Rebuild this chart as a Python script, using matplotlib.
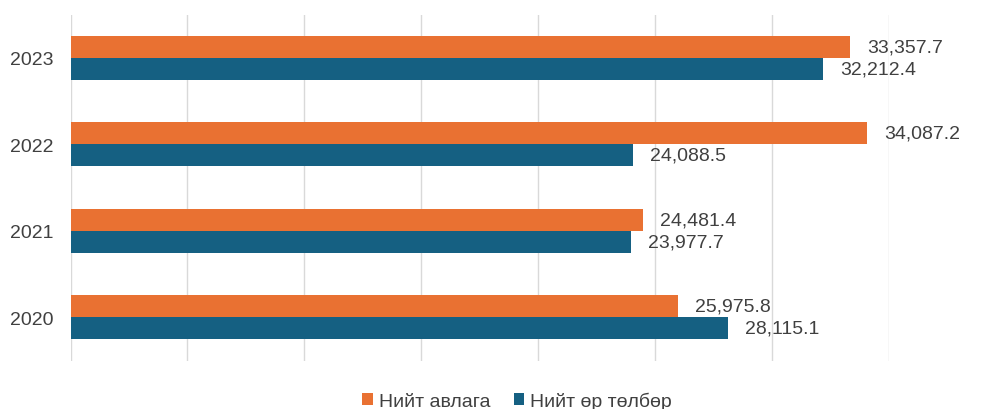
import matplotlib.pyplot as plt
import numpy as np

plt.rcParams['font.family'] = ['Liberation Sans', 'DejaVu Sans']

YEARS = ["2020", "2021", "2022", "2023"]
RECEIVABLES = [25975.8, 24481.4, 34087.2, 33357.7]   # Нийт авлага
PAYABLES = [28115.1, 23977.7, 24088.5, 32212.4]      # Нийт өр төлбөр
SERIES_NAMES = ["Нийт авлага", "Нийт өр төлбөр"]

ORANGE = "#E97132"
TEAL = "#156082"
TEXT = "#404040"
FS = 14

fig = plt.figure(figsize=(10, 4.1), dpi=100)
ax = fig.add_axes([0.0705, 1 - 361.5 / 410, 0.818, 346 / 410])

y = np.arange(len(YEARS))
h = 0.255
b1 = ax.barh(y + h / 2, RECEIVABLES, height=h, color=ORANGE, label=SERIES_NAMES[0])
b2 = ax.barh(y - h / 2, PAYABLES, height=h, color=TEAL, label=SERIES_NAMES[1])

# value labels just right of each bar
for bars, vals in ((b1, RECEIVABLES), (b2, PAYABLES)):
    for bar, v in zip(bars, vals):
        ax.annotate(f"{v:,.1f}", (v, bar.get_y() + bar.get_height() / 2),
                    xytext=(17, 0), textcoords="offset pixels",
                    ha="left", va="center", fontsize=FS, color=TEXT,
                    annotation_clip=False)

ax.set_xlim(0, 35000)
ax.set_ylim(-0.5, 3.5)
ax.set_xticks(np.arange(0, 35001, 5000))
ax.set_xticklabels([])
ax.set_yticks(y)
ax.set_yticklabels(YEARS, fontsize=FS, color=TEXT)
ax.tick_params(axis="both", length=0)
ax.tick_params(axis="y", pad=12)
ax.grid(axis="x", color="#D9D9D9", linewidth=1)
ax.set_axisbelow(True)
for s in ax.spines.values():
    s.set_visible(False)

leg = fig.legend(handles=[b1, b2], loc="lower center", bbox_to_anchor=(0.517, -0.045),
                 ncol=2, frameon=False, fontsize=FS, handlelength=0.55, handleheight=0.55,
                 handletextpad=0.3, columnspacing=1.2)
for t in leg.get_texts():
    t.set_color(TEXT)

fig.savefig("out.png", dpi=100)
